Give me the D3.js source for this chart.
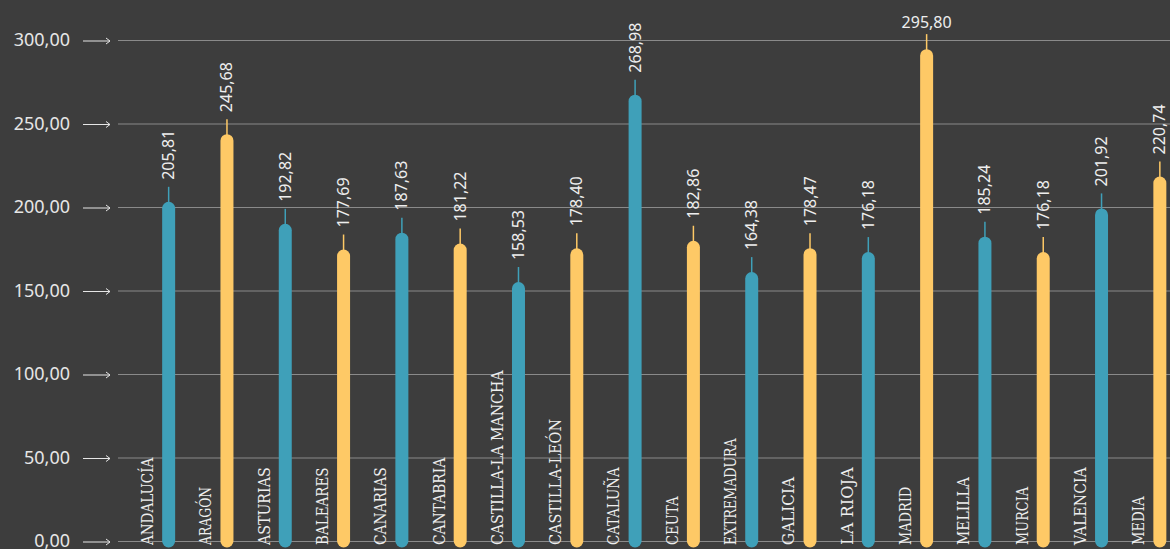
<!DOCTYPE html>
<html>
<head>
<meta charset="utf-8">
<script src="https://cdnjs.cloudflare.com/ajax/libs/d3/7.8.5/d3.min.js"></script>
<style>
  html, body { margin: 0; padding: 0; background: #3d3d3d; overflow: hidden; }
  svg { display: block; }
</style>
</head>
<body>
<svg id="chart"></svg>
<script>
var categories = ["ANDALUCÍA", "ARAGÓN", "ASTURIAS", "BALEARES", "CANARIAS", "CANTABRIA",
    "CASTILLA-LA MANCHA", "CASTILLA-LEÓN", "CATALUÑA", "CEUTA", "EXTREMADURA", "GALICIA",
    "LA RIOJA", "MADRID", "MELILLA", "MURCIA", "VALENCIA", "MEDIA"];
var values = [205.81, 245.68, 192.82, 177.69, 187.63, 181.22, 158.53, 178.40, 268.98,
    182.86, 164.38, 178.47, 176.18, 295.80, 185.24, 176.18, 201.92, 220.74];
var yTicks = [0, 50, 100, 150, 200, 250, 300];

function barPlot() {
    var svgWidth = 1170, svgHeight = 549;
    var gridLeft = 118;
    var barWidth = 13;
    var leader = 15, textPadding = 7;
    var colors = ["#3fa0b9", "#fec966"];

    var es = d3.formatLocale({decimal: ",", thousands: ".", grouping: [3], currency: ["", "€"]});
    var fmt = es.format(".2f");

    var svg = d3.select("#chart")
            .attr("width", svgWidth)
            .attr("height", svgHeight);

    var x = d3.scaleBand()
            .domain(categories)
            .range([139.5, 1189]);

    // gridline scale
    var y = d3.scaleLinear()
            .domain([0, 300])
            .range([541, 40]);
    // the bars in the original sit a little lower than the grid says
    var yBar = d3.scaleLinear()
            .domain([0, 300])
            .range([551, 42]);

    // gridlines + tick labels
    var axis = svg.append("g")
            .attr("transform", "translate(" + gridLeft + ",0)")
            .call(d3.axisLeft(y)
                .tickValues(yTicks)
                .tickSize(-(svgWidth - gridLeft))
                .tickFormat(fmt));
    axis.select(".domain").remove();
    axis.selectAll(".tick line")
            .attr("stroke", "#8a8a8a")
            .attr("stroke-width", 1.2);
    axis.selectAll(".tick text")
            .attr("x", -48)
            .attr("dy", "0.33em")
            .attr("fill", "#e6e6e6")
            .style("font-family", "'Noto Sans', sans-serif")
            .style("font-size", "18px");
    // little arrows in front of every gridline
    axis.selectAll(".tick").append("path")
            .attr("d", "M-35,0.5H-8M-12,-2.5L-8,0.5L-12,3.5")
            .attr("fill", "none")
            .attr("stroke", "#e6e6e6")
            .attr("stroke-width", 1);

    // category labels (slab, typewriter-like)
    svg.selectAll("text.cat")
            .data(categories)
            .enter()
            .append("text")
            .attr("class", "cat")
            .text(function(d) { return d; })
            .attr("transform", function(d) {
                return "translate(" + (x(d) + 13.5) + ",545) rotate(-90)";
            })
            .attr("textLength", function(d) { return d.length * 9.7; })
            .attr("lengthAdjust", "spacingAndGlyphs")
            .attr("fill", "#eeeeee")
            .style("font-family", "'DejaVu Serif', serif")
            .style("font-stretch", "condensed")
            .style("font-size", "17.5px");

    // bars (rounded caps)
    svg.selectAll("line.bar")
            .data(values)
            .enter()
            .append("line")
            .attr("class", "bar")
            .attr("x1", function(d, i) { return x(categories[i]) + x.bandwidth() / 2; })
            .attr("x2", function(d, i) { return x(categories[i]) + x.bandwidth() / 2; })
            .attr("y1", y(0))
            .attr("y2", function(d) { return yBar(d) + barWidth / 2; })
            .attr("stroke", function(d, i) { return colors[i % 2]; })
            .attr("stroke-width", barWidth)
            .attr("stroke-linecap", "round");

    // leader lines
    svg.selectAll("line.leader")
            .data(values)
            .enter()
            .append("line")
            .attr("class", "leader")
            .attr("x1", function(d, i) { return x(categories[i]) + x.bandwidth() / 2; })
            .attr("x2", function(d, i) { return x(categories[i]) + x.bandwidth() / 2; })
            .attr("y1", function(d) { return yBar(d) + 1; })
            .attr("y2", function(d) { return yBar(d) - leader; })
            .attr("stroke", function(d, i) { return colors[i % 2]; })
            .attr("stroke-width", 1.5);

    // value labels; the tallest one is written flat so it stays on the page
    function flat(d) { return yBar(d) - leader - 60 < 0; }
    svg.selectAll("text.val")
            .data(values)
            .enter()
            .append("text")
            .attr("class", "val")
            .text(function(d) { return fmt(d); })
            .attr("transform", function(d, i) {
                var cx = x(categories[i]) + x.bandwidth() / 2;
                if (flat(d)) {
                    return "translate(" + cx + "," + (yBar(d) - leader - 6) + ")";
                }
                return "translate(" + (cx + 5.5) + "," + (yBar(d) - leader - textPadding) + ") rotate(-90)";
            })
            .attr("text-anchor", function(d) { return flat(d) ? "middle" : "start"; })
            .attr("fill", "#eeeeee")
            .style("font-family", "'Noto Sans', sans-serif")
            .style("font-size", "16px");
}
barPlot();
</script>
</body>
</html>
